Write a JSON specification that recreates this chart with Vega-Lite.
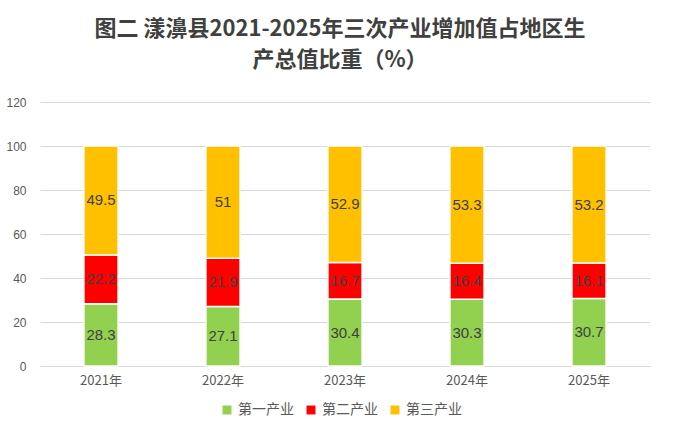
{
  "$schema": "https://vega.github.io/schema/vega-lite/v6.json",
  "autosize": {"type": "none"},
  "padding": {"left": 40, "top": 102, "right": 30, "bottom": 74},
  "width": 610,
  "height": 264,
  "background": "white",
  "config": {"view": {"stroke": null}},
  "title": {
    "text": ["图二  漾濞县2021-2025年三次产业增加值占地区生", "产总值比重（%）"],
    "font": "Noto Sans CJK SC",
    "fontSize": 22,
    "fontWeight": "bold",
    "color": "#404040",
    "lineHeight": 31,
    "anchor": "middle",
    "dx": -5,
    "offset": 24
  },
  "data": {
    "values": [
      {"year": "2021年", "type": "第一产业", "k": 1, "v": 28.3},
      {"year": "2021年", "type": "第二产业", "k": 2, "v": 22.2},
      {"year": "2021年", "type": "第三产业", "k": 3, "v": 49.5},
      {"year": "2022年", "type": "第一产业", "k": 1, "v": 27.1},
      {"year": "2022年", "type": "第二产业", "k": 2, "v": 21.9},
      {"year": "2022年", "type": "第三产业", "k": 3, "v": 51},
      {"year": "2023年", "type": "第一产业", "k": 1, "v": 30.4},
      {"year": "2023年", "type": "第二产业", "k": 2, "v": 16.7},
      {"year": "2023年", "type": "第三产业", "k": 3, "v": 52.9},
      {"year": "2024年", "type": "第一产业", "k": 1, "v": 30.3},
      {"year": "2024年", "type": "第二产业", "k": 2, "v": 16.4},
      {"year": "2024年", "type": "第三产业", "k": 3, "v": 53.3},
      {"year": "2025年", "type": "第一产业", "k": 1, "v": 30.7},
      {"year": "2025年", "type": "第二产业", "k": 2, "v": 16.1},
      {"year": "2025年", "type": "第三产业", "k": 3, "v": 53.2}
    ]
  },
  "transform": [
    {"stack": "v", "groupby": ["year"], "sort": [{"field": "k"}], "as": ["y0", "y1"]},
    {"calculate": "(datum.y0 + datum.y1) / 2", "as": "ymid"}
  ],
  "encoding": {
    "x": {
      "field": "year",
      "type": "nominal",
      "title": null,
      "scale": {"paddingInner": 0.72, "paddingOuter": 0.36},
      "axis": {
        "labelAngle": 0,
        "labelFont": "Noto Sans CJK SC",
        "labelFontSize": 13,
        "labelColor": "#595959",
        "labelPadding": 8,
        "domainColor": "#D9D9D9",
        "ticks": false,
        "grid": false
      }
    }
  },
  "layer": [
    {
      "mark": {"type": "bar", "stroke": "white", "strokeWidth": 1.5},
      "encoding": {
        "y": {
          "field": "y0",
          "type": "quantitative",
          "title": null,
          "scale": {"domain": [0, 120]},
          "axis": {
            "values": [0, 20, 40, 60, 80, 100, 120],
            "labelFont": "Liberation Sans",
            "labelFontSize": 12,
            "labelColor": "#595959",
            "labelPadding": 14,
            "domain": false,
            "ticks": false,
            "gridColor": "#D9D9D9"
          }
        },
        "y2": {"field": "y1"},
        "color": {
          "field": "type",
          "type": "nominal",
          "sort": ["第一产业", "第二产业", "第三产业"],
          "scale": {
            "domain": ["第一产业", "第二产业", "第三产业"],
            "range": ["#92D050", "#FF0000", "#FFC000"]
          },
          "legend": {
            "title": null,
            "orient": "none",
            "legendX": 180,
            "legendY": 301,
            "direction": "horizontal",
            "symbolType": "square",
            "symbolSize": 80,
            "symbolStrokeWidth": 0,
            "labelFont": "Noto Sans CJK SC",
            "labelFontSize": 14,
            "labelColor": "#595959",
            "columnPadding": 10
          }
        }
      }
    },
    {
      "mark": {
        "type": "text",
        "font": "Liberation Sans",
        "fontSize": 15,
        "color": "#404040"
      },
      "encoding": {
        "y": {"field": "ymid", "type": "quantitative"},
        "text": {"field": "v", "type": "quantitative"}
      }
    }
  ]
}
